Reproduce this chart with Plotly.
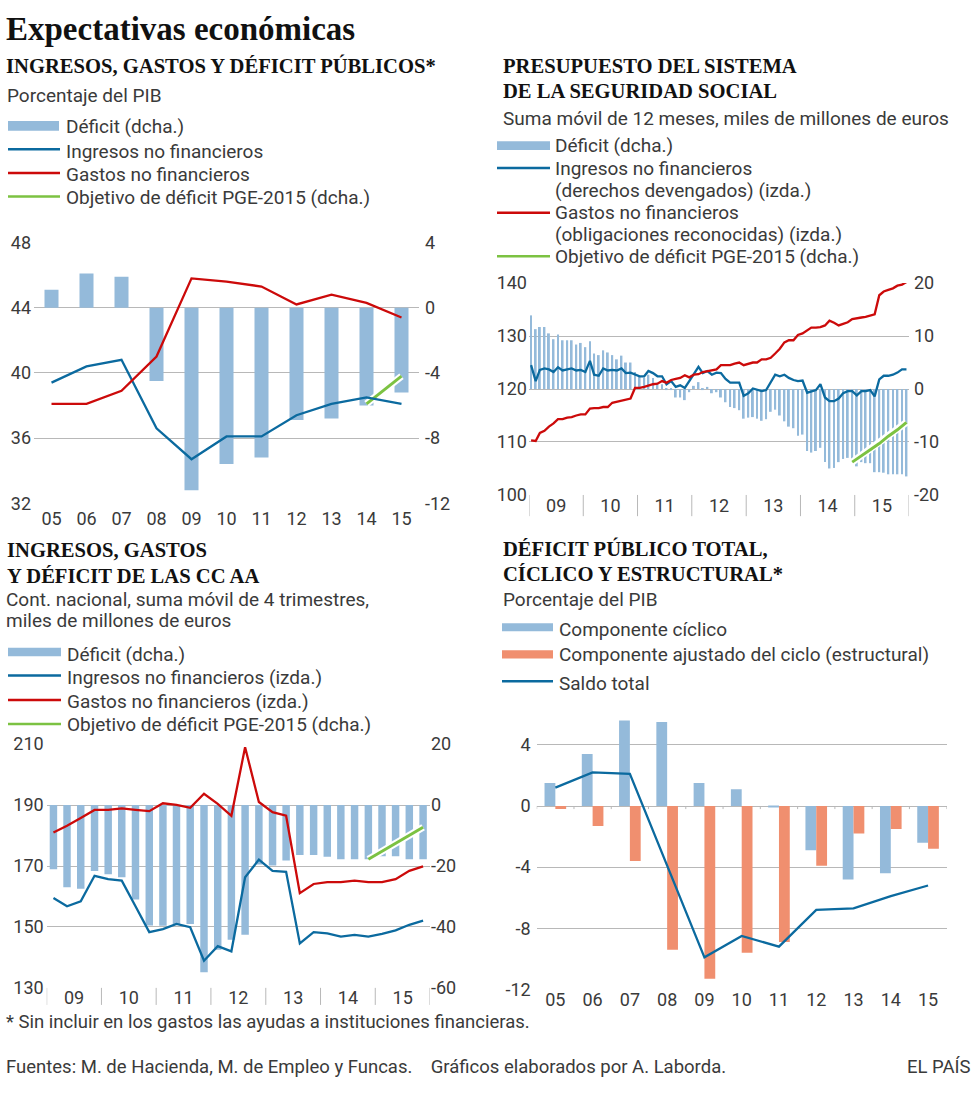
import plotly.graph_objects as go
import pandas as pd

W, H = 980, 1110

# ---------------- Panel 1: Ingresos, gastos y déficit públicos ----------------
years_short = ['05', '06', '07', '08', '09', '10', '11', '12', '13', '14', '15']
p1_deficit = [1.1, 2.1, 1.9, -4.5, -11.2, -9.6, -9.2, -6.9, -6.8, -6.0, -5.2]
p1_ingresos = [39.4, 40.4, 40.8, 36.6, 34.7, 36.1, 36.1, 37.4, 38.1, 38.5, 38.1]
p1_gastos = [38.1, 38.1, 38.9, 41.0, 45.8, 45.6, 45.3, 44.2, 44.8, 44.3, 43.4]
p1_obj_years = ['14', '15']
p1_obj = [-5.9, -4.2]

# ---------------- Panel 2: Presupuesto de la Seguridad Social (mensual) ----------------
p2_start = '2009-01-01'
p2_deficit = [13.9, 11.3, 11.7, 11.7, 10.5, 9.4, 10.3, 9.2, 9.2, 9.2, 8.4, 8.7,
              7.9, 9.0, 6.7, 6.4, 7.3, 6.9, 6.4, 5.6, 6.3, 5.0, 5.0, 3.2,
              2.4, 2.1, 2.7, 2.1, 1.2, 0.9, -0.2, -0.2, -1.6, -1.6, -2.1, -0.6,
              0.6, 1.3, -0.2, 0.4, -0.8, -0.6, -1.6, -2.5, -3.4, -3.6, -4.0, -5.6,
              -5.4, -5.3, -5.6, -6.0, -5.7, -4.3, -3.9, -5.0, -6.1, -7.1, -7.4, -8.8,
              -8.6, -11.7, -12.0, -11.7, -11.1, -13.8, -15.0, -14.9, -13.8, -13.2, -13.0, -13.2,
              -14.6, -13.8, -14.0, -14.0, -15.7, -15.7, -15.8, -16.1, -16.1, -16.1, -16.1, -16.5]
p2_ingresos = [124.5, 121.5, 123.6, 123.9, 123.7, 123.2, 124.1, 123.5, 123.7, 123.9, 123.5, 123.6,
               123.2, 125.3, 122.7, 122.5, 123.9, 123.5, 123.6, 123.5, 123.9, 123.0, 123.1, 122.7,
               122.4, 122.4, 123.4, 123.0, 122.4, 122.4, 120.9, 121.5, 120.4, 120.7, 120.2, 121.5,
               122.8, 124.2, 123.0, 123.4, 122.7, 123.1, 123.0, 121.9, 121.2, 121.2, 121.2, 118.7,
               119.2, 120.1, 119.8, 119.6, 119.8, 121.2, 122.7, 122.4, 122.7, 122.1, 121.7, 121.5,
               121.6, 119.3, 119.6, 119.8, 120.9, 118.4, 117.7, 117.7, 118.2, 119.2, 119.6, 119.6,
               118.8, 119.6, 119.6, 119.8, 118.6, 121.8, 122.5, 122.5, 122.7, 123.1, 123.7, 123.7]
p2_gastos = [110.3, 110.2, 111.7, 112.1, 112.9, 113.5, 114.3, 114.3, 114.6, 114.7, 115.0, 115.2,
             115.2, 116.3, 116.4, 116.4, 116.6, 116.6, 117.4, 117.6, 117.9, 118.0, 118.2, 120.2,
             120.2, 120.4, 120.7, 120.9, 121.0, 121.5, 121.2, 121.7, 121.9, 122.1, 122.6, 122.2,
             122.7, 122.8, 123.2, 123.4, 123.6, 123.7, 124.5, 124.5, 124.5, 124.8, 125.0, 124.5,
             124.8, 125.0, 125.0, 125.6, 125.6, 125.9, 126.7, 127.6, 128.8, 129.2, 129.2, 130.2,
             130.5, 131.1, 131.6, 131.6, 131.7, 132.0, 132.9, 132.5, 132.0, 132.3, 132.6, 133.2,
             133.4, 133.5, 133.6, 133.9, 134.1, 137.7, 138.4, 138.7, 139.0, 139.5, 139.7, 140.2]
p2_obj_months = ['2014-12', '2015-03', '2015-06', '2015-08', '2015-10', '2015-12']
p2_obj = [-13.8, -12.0, -10.3, -8.9, -7.7, -6.3]
p2_years = list(range(2009, 2017))

# ---------------- Panel 3: CC AA (trimestral) ----------------
p3_start = '2009Q1'
p3_deficit = [-21.1, -27.0, -27.5, -21.6, -22.7, -23.7, -31.0, -39.5, -39.6, -39.2, -39.0, -54.9,
              -47.5, -44.2, -42.6, -19.5, -19.8, -18.2, -16.4, -16.4, -17.0, -17.8, -17.8, -17.8,
              -16.8, -16.8, -17.8, -17.8]
p3_ingresos = [159.5, 156.8, 158.4, 166.8, 165.7, 165.2, 156.8, 148.3, 149.3, 151.0, 149.9, 138.9,
               143.7, 142.0, 166.3, 172.1, 168.4, 168.1, 144.6, 148.3, 147.9, 146.8, 147.4, 146.8,
               147.7, 148.9, 150.7, 152.1]
p3_gastos = [181.0, 183.2, 185.8, 188.4, 188.4, 188.9, 188.4, 188.0, 190.6, 190.1, 189.1, 193.7,
             190.4, 186.5, 209.0, 191.0, 187.7, 186.5, 161.1, 164.1, 164.7, 164.7, 165.2, 164.7,
             164.7, 165.7, 168.4, 169.9]
p3_obj_quarters = ['2014Q4', '2015Q1', '2015Q2', '2015Q3', '2015Q4']
p3_obj = [-17.8, -15.2, -12.6, -10.0, -7.3]
p3_years = list(range(2009, 2017))

# ---------------- Panel 4: Déficit total, cíclico y estructural ----------------
p4_ciclico = [1.5, 3.4, 5.6, 5.5, 1.5, 1.1, -0.1, -2.9, -4.8, -4.4, -2.4]
p4_estructural = [-0.2, -1.3, -3.6, -9.4, -11.3, -9.6, -8.9, -3.9, -1.8, -1.5, -2.8]
p4_total = [1.2, 2.2, 2.1, -3.9, -9.9, -8.5, -9.2, -6.8, -6.7, -5.9, -5.2]

# ---------------- styles ----------------
BAR = '#94bada'
BLUE = '#0b6a9f'
RED = '#cc0a0a'
GREEN = '#7cc242'
SALMON = '#f08f6f'
GRID = '#b8b8b8'
TXT = '#3a3a3a'
SANS = 'Roboto'
SERIF = 'Liberation Serif'
LW = 2.3


def mid_month(m):
    p = pd.Period(m, freq='M')
    return p.start_time + pd.Timedelta(days=14)


def mid_quarter(q):
    p = pd.Period(q, freq='Q')
    return p.start_time + (p.end_time - p.start_time) / 2


p2_dates = [mid_month(p) for p in pd.period_range(p2_start, periods=len(p2_deficit), freq='M')]
p2_obj_dates = [mid_month(m) for m in p2_obj_months]
p3_dates = [mid_quarter(q) for q in pd.period_range(p3_start, periods=len(p3_deficit), freq='Q')]
p3_obj_dates = [mid_quarter(q) for q in p3_obj_quarters]

fig = go.Figure()

# Panel 1
fig.add_trace(go.Bar(x=years_short, y=p1_deficit, width=0.4, marker_color=BAR,
                     marker_line_width=0, xaxis='x', yaxis='y'))
fig.add_trace(go.Scatter(x=p1_obj_years, y=p1_obj, mode='lines', line=dict(color='white', width=7),
                         xaxis='x', yaxis='y'))
fig.add_trace(go.Scatter(x=p1_obj_years, y=p1_obj, mode='lines', line=dict(color=GREEN, width=3),
                         xaxis='x', yaxis='y'))
fig.add_trace(go.Scatter(x=years_short, y=p1_ingresos, mode='lines', line=dict(color=BLUE, width=LW),
                         xaxis='x', yaxis='y2'))
fig.add_trace(go.Scatter(x=years_short, y=p1_gastos, mode='lines', line=dict(color=RED, width=LW),
                         xaxis='x', yaxis='y2'))

# Panel 2
fig.add_trace(go.Bar(x=p2_dates, y=p2_deficit, width=1.1e9, marker_color=BAR,
                     marker_line_width=0, xaxis='x2', yaxis='y3'))
fig.add_trace(go.Scatter(x=p2_obj_dates, y=p2_obj, mode='lines', line=dict(color='white', width=7),
                         xaxis='x2', yaxis='y3'))
fig.add_trace(go.Scatter(x=p2_obj_dates, y=p2_obj, mode='lines', line=dict(color=GREEN, width=3),
                         xaxis='x2', yaxis='y3'))
fig.add_trace(go.Scatter(x=p2_dates, y=p2_ingresos, mode='lines', line=dict(color=BLUE, width=LW),
                         xaxis='x2', yaxis='y4'))
fig.add_trace(go.Scatter(x=p2_dates, y=p2_gastos, mode='lines', line=dict(color=RED, width=LW),
                         xaxis='x2', yaxis='y4'))

# Panel 3
fig.add_trace(go.Bar(x=p3_dates, y=p3_deficit, width=4.3e9, marker_color=BAR,
                     marker_line_width=0, xaxis='x3', yaxis='y5'))
fig.add_trace(go.Scatter(x=p3_obj_dates, y=p3_obj, mode='lines', line=dict(color='white', width=7),
                         xaxis='x3', yaxis='y5'))
fig.add_trace(go.Scatter(x=p3_obj_dates, y=p3_obj, mode='lines', line=dict(color=GREEN, width=3),
                         xaxis='x3', yaxis='y5'))
fig.add_trace(go.Scatter(x=p3_dates, y=p3_ingresos, mode='lines', line=dict(color=BLUE, width=LW),
                         xaxis='x3', yaxis='y6'))
fig.add_trace(go.Scatter(x=p3_dates, y=p3_gastos, mode='lines', line=dict(color=RED, width=LW),
                         xaxis='x3', yaxis='y6'))

# Panel 4
fig.add_trace(go.Bar(x=years_short, y=p4_ciclico, width=0.29, offset=-0.29, marker_color=BAR,
                     marker_line_width=0, xaxis='x4', yaxis='y7'))
fig.add_trace(go.Bar(x=years_short, y=p4_estructural, width=0.29, offset=0, marker_color=SALMON,
                     marker_line_width=0, xaxis='x4', yaxis='y7'))
fig.add_trace(go.Scatter(x=years_short, y=p4_total, mode='lines', line=dict(color=BLUE, width=LW),
                         xaxis='x4', yaxis='y7'))


def dx(a, b):
    return [a / W, b / W]


def dy(top, bottom):
    return [1 - bottom / H, 1 - top / H]


def ticks(vals):
    return dict(tickmode='array', tickvals=vals, ticktext=[str(v) for v in vals])


tf = dict(family=SANS, size=18, color=TXT)
common_y = dict(zeroline=False, ticks='', tickfont=tf, fixedrange=True)
common_x = dict(zeroline=False, ticks='', tickfont=tf, showgrid=False, fixedrange=True)

layout_axes = dict(
    xaxis=dict(domain=dx(34, 419), anchor='y', type='category', range=[-0.5, 10.5],
               ticklabelstandoff=3, **common_x),
    yaxis=dict(domain=dy(236, 501.7), anchor='x', side='right', range=[-12, 4], ticklabelstandoff=5,
               showgrid=True, gridcolor=GRID, gridwidth=1, **ticks([-12, -8, -4, 0, 4]), **common_y),
    yaxis2=dict(overlaying='y', anchor='x', side='left', range=[32, 48], showgrid=False,
                ticklabelstandoff=2, **ticks([32, 36, 40, 44, 48]), **common_y),

    xaxis2=dict(domain=dx(529, 909), anchor='y3', type='date', range=['2009-01-01', '2016-01-01'],
                dtick='M12', tick0='2009-01-01', tickformat='%y', ticklabelmode='period',
                ticklabelstandoff=-2, **common_x),
    yaxis3=dict(domain=dy(277.3, 493.3), anchor='x2', side='right', range=[-20, 20], ticklabelstandoff=4,
                showgrid=True, gridcolor=GRID, gridwidth=1, **ticks([-20, -10, 0, 10, 20]), **common_y),
    yaxis4=dict(overlaying='y3', anchor='x2', side='left', range=[100, 140], showgrid=False,
                ticklabelstandoff=1, **ticks([100, 110, 120, 130, 140]), **common_y),

    xaxis3=dict(domain=dx(46.7, 430), anchor='y5', type='date', range=['2009-01-01', '2016-01-01'],
                dtick='M12', tick0='2009-01-01', tickformat='%y', ticklabelmode='period',
                ticklabelstandoff=-3, **common_x),
    yaxis5=dict(domain=dy(747.3, 995.7), anchor='x3', side='right', range=[-60, 20], ticklabelstandoff=0,
                showgrid=True, gridcolor=GRID, gridwidth=1, **ticks([-60, -40, -20, 0, 20]), **common_y),
    yaxis6=dict(overlaying='y5', anchor='x3', side='left', range=[130, 210], showgrid=False,
                ticklabelstandoff=2, **ticks([130, 150, 170, 190, 210]), **common_y),

    xaxis4=dict(domain=dx(536.7, 946.7), anchor='y7', type='category', range=[-0.5, 10.5],
                ticklabelstandoff=-2, **common_x),
    yaxis7=dict(domain=dy(720, 997.3), anchor='x4', side='left', range=[-12, 5.8], ticklabelstandoff=5,
                showgrid=True, gridcolor=GRID, gridwidth=1, **ticks([-12, -8, -4, 0, 4]), **common_y),
)

shapes = []
annotations = []


def text(x, y, s, size=19, family=SANS, color=TXT, anchor='left'):
    annotations.append(dict(x=x / W, y=1 - y / H, xref='paper', yref='paper', text=s, showarrow=False,
                            xanchor=anchor, yanchor='middle', borderpad=0,
                            font=dict(family=family, size=size, color=color)))


def swatch_bar(x0, x1, y0, y1, color):
    shapes.append(dict(type='rect', xref='paper', yref='paper', x0=x0 / W, x1=x1 / W,
                       y0=1 - y1 / H, y1=1 - y0 / H, fillcolor=color, line=dict(width=0)))


def swatch_line(x0, x1, y, color):
    shapes.append(dict(type='line', xref='paper', yref='paper', x0=x0 / W, x1=x1 / W,
                       y0=1 - y / H, y1=1 - y / H, line=dict(color=color, width=2.5)))


# year separators below the date axes
for yr in p2_years:
    shapes.append(dict(type='line', xref='x2', yref='y3 domain', x0=f'{yr}-01-01', x1=f'{yr}-01-01',
                       y0=0, y1=-0.1, line=dict(color=GRID, width=1)))
for yr in p3_years:
    shapes.append(dict(type='line', xref='x3', yref='y5 domain', x0=f'{yr}-01-01', x1=f'{yr}-01-01',
                       y0=0, y1=-0.07, line=dict(color=GRID, width=1)))
# small ticks on the zero line of panel 4, between categories
for k in range(len(years_short) + 1):
    shapes.append(dict(type='line', xref='x4', yref='y7', x0=k - 0.5, x1=k - 0.5, y0=0, y1=-0.2,
                       line=dict(color=GRID, width=1)))

SERIF_TITLE = 20.6
# Titles
text(5, 18, '<b>Expectativas económicas</b>', size=33, family=SERIF, color='#111111')

# Panel 1 texts
text(5, 55.5, '<b>INGRESOS, GASTOS Y DÉFICIT PÚBLICOS*</b>', size=SERIF_TITLE, family=SERIF, color='#111111')
text(6, 86, 'Porcentaje del PIB')
swatch_bar(8, 59, 112, 122, BAR)
text(65, 118, 'Déficit (dcha.)')
swatch_line(8, 60, 141, BLUE)
text(65, 143, 'Ingresos no financieros')
swatch_line(8, 60, 165, RED)
text(65, 167, 'Gastos no financieros')
swatch_line(8, 60, 189, GREEN)
text(65, 190, 'Objetivo de déficit PGE-2015 (dcha.)')

# Panel 2 texts
text(502, 56, '<b>PRESUPUESTO DEL SISTEMA</b>', size=SERIF_TITLE, family=SERIF, color='#111111')
text(502, 82, '<b>DE LA SEGURIDAD SOCIAL</b>', size=SERIF_TITLE, family=SERIF, color='#111111')
text(502, 110, 'Suma móvil de 12 meses, miles de millones de euros')
swatch_bar(497, 550, 132.7, 141.7, BAR)
text(554, 137.5, 'Déficit (dcha.)')
swatch_line(497, 550, 160, BLUE)
text(554, 161, 'Ingresos no financieros')
text(554, 183, '(derechos devengados) (izda.)')
swatch_line(497, 550, 205.7, RED)
text(554, 205, 'Gastos no financieros')
text(554, 228, '(obligaciones reconocidas) (izda.)')
swatch_line(497, 550, 250, GREEN)
text(554, 250, 'Objetivo de déficit PGE-2015 (dcha.)')

# Panel 3 texts
text(6, 549, '<b>INGRESOS, GASTOS</b>', size=SERIF_TITLE, family=SERIF, color='#111111')
text(6, 575.5, '<b>Y DÉFICIT DE LAS CC AA</b>', size=SERIF_TITLE, family=SERIF, color='#111111')
text(5, 600, 'Cont. nacional, suma móvil de 4 trimestres,')
text(5, 621, 'miles de millones de euros')
swatch_bar(8, 61, 649, 657.7, BAR)
text(66, 656, 'Déficit (dcha.)')
swatch_line(8, 61, 677.3, BLUE)
text(66, 679, 'Ingresos no financieros (izda.)')
swatch_line(8, 61, 702.3, RED)
text(66, 703.5, 'Gastos no financieros (izda.)')
swatch_line(8, 61, 726.7, GREEN)
text(66, 727.5, 'Objetivo de déficit PGE-2015 (dcha.)')

# Panel 4 texts
text(502, 547.5, '<b>DÉFICIT PÚBLICO TOTAL,</b>', size=SERIF_TITLE, family=SERIF, color='#111111')
text(502, 574, '<b>CÍCLICO Y ESTRUCTURAL*</b>', size=SERIF_TITLE, family=SERIF, color='#111111')
text(502, 600, 'Porcentaje del PIB')
swatch_bar(502, 553, 624, 632.3, BAR)
text(558, 630, 'Componente cíclico')
swatch_bar(502, 553, 651.7, 660, SALMON)
text(558, 656, 'Componente ajustado del ciclo (estructural)')
swatch_line(502, 553, 683.3, BLUE)
text(558, 685, 'Saldo total')

# Footer
FOOT = 18.5
text(5, 1030.7, '* Sin incluir en los gastos las ayudas a instituciones financieras.', size=FOOT)
text(5, 1076, 'Fuentes: M. de Hacienda, M. de Empleo y Funcas.&nbsp;&nbsp;&nbsp; Gráficos elaborados por A. Laborda.', size=FOOT)
text(972, 1076, 'EL PAÍS', size=FOOT, anchor='right')

fig.update_layout(
    width=W, height=H,
    margin=dict(l=0, r=0, t=0, b=0),
    paper_bgcolor='white', plot_bgcolor='rgba(0,0,0,0)',
    showlegend=False,
    barmode='overlay',
    shapes=shapes,
    annotations=annotations,
    **layout_axes,
)

fig.write_html('out.html', config={'displayModeBar': False},
               post_script="document.body.style.margin='0';document.body.style.overflow='hidden';")
